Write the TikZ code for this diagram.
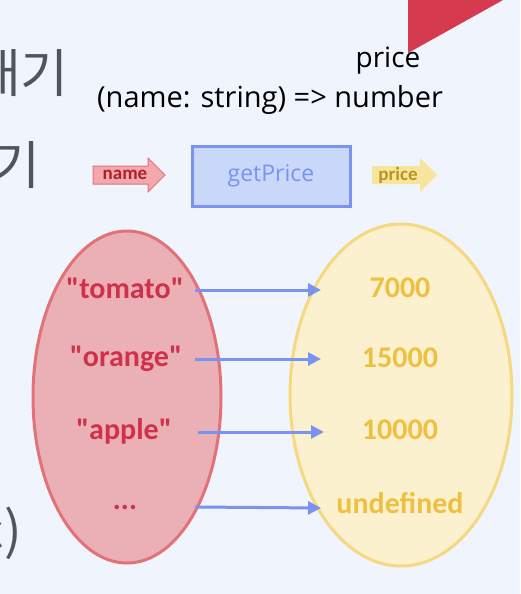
\documentclass[tikz,border=0pt]{standalone}
\usepackage{fontspec}
\setmainfont{Open Sans}
\newfontfamily\carl{Carlito}
\newfontfamily\kr{Noto Sans CJK KR}
\usetikzlibrary{shapes.geometric,arrows.meta}
\definecolor{bg}{HTML}{F0F4FD}
\definecolor{tri}{HTML}{D63A4E}
\definecolor{redfill}{HTML}{EBB0B5}
\definecolor{redline}{HTML}{E27278}
\definecolor{redtext}{HTML}{D0304A}
\definecolor{yelfill}{HTML}{FCF1CF}
\definecolor{yelline}{HTML}{F5D880}
\definecolor{yeltext}{HTML}{EEC040}
\definecolor{blueline}{HTML}{7B93F0}
\definecolor{bluefill}{HTML}{C9D7F8}
\definecolor{krgray}{HTML}{50555C}
\definecolor{namefill}{HTML}{F2A9AC}
\definecolor{nametext}{HTML}{B0202A}
\definecolor{pricefill}{HTML}{F8E49C}
\definecolor{pricetext}{HTML}{B8961E}
\tikzset{
  kr/.style={text=krgray,font=\kr\fontsize{52}{60}\selectfont,inner sep=0pt},
  lbl/.style={font=\carl\bfseries\fontsize{30}{34}\selectfont,inner sep=0pt},
  conn/.style={draw=blueline,line width=3pt,-{Triangle[length=13pt,width=13pt]}},
}
\begin{document}
\begin{tikzpicture}[x=1pt,y=-1pt]
\useasboundingbox (0,0) rectangle (520,594);
\fill[bg] (0,0) rectangle (520,594);
\begin{scope}
\clip (0,0) rectangle (520,594);
\fill[tri] (408,-1) -- (521,-1) -- (521,-10) -- (408,53) -- cycle;
\node[kr,anchor=east] (k1) at (69,73) {대기};
\node[kr,anchor=east] (k2) at (41,165) {하기};
\node[kr,anchor=east] (k3) at (22,533) {c)};
\end{scope}
\node[font=\fontsize{28}{32}\selectfont,inner sep=0pt] (ptitle) at (388,61) {price};
\node[font=\fontsize{29}{33}\selectfont,inner sep=0pt] (sig) at (270,100) {(name: string) => number};
% name arrow
\filldraw[fill=namefill,draw=redline,line width=1pt] (93,166) -- (148,166) -- (148,158) -- (165,175) -- (148,192) -- (148,184) -- (93,184) -- cycle;
\node[text=nametext,font=\carl\bfseries\fontsize{19}{22}\selectfont,inner sep=0pt] (nm) at (125,175) {name};
% box
\node[draw=blueline,fill=bluefill,line width=3pt,minimum width=158pt,minimum height=60pt,text=blueline,font=\fontsize{23}{26}\selectfont] (box) at (271,176) {getPrice};
% price arrow
\fill[pricefill] (372,166) -- (420,166) -- (420,158) -- (437,175) -- (420,192) -- (420,184) -- (372,184) -- cycle;
\node[text=pricetext,font=\carl\bfseries\fontsize{19}{22}\selectfont,inner sep=0pt] (pr) at (398,175) {price};
% ellipses
\node[ellipse,draw=redline,fill=redfill,line width=3pt,minimum width=188pt,minimum height=332pt] (dom) at (127,397) {};
\node[ellipse,draw=yelline,fill=yelfill,line width=3pt,minimum width=222pt,minimum height=342pt] (cod) at (401,395) {};
\node[lbl,text=redtext] (l1) at (125,288) {"tomato"};
\node[lbl,text=redtext] (l2) at (126,359) {"orange"};
\node[lbl,text=redtext] (l3) at (124,431) {"apple"};
\node[lbl,text=redtext] (l4) at (125,507) {...};
\node[lbl,text=yeltext] (r1) at (400,288) {7000};
\node[lbl,text=yeltext] (r2) at (400,358) {15000};
\node[lbl,text=yeltext] (r3) at (400,430) {10000};
\node[lbl,text=yeltext] (r4) at (400,503) {undefined};
\coordinate (a1) at (195,290); \coordinate (b1) at (321,290);
\coordinate (a2) at (195,359); \coordinate (b2) at (321,359);
\coordinate (a3) at (198,432); \coordinate (b3) at (324,432);
\coordinate (a4) at (195,507); \coordinate (b4) at (321,508);
\draw[conn] (a1) -- (b1);
\draw[conn] (a2) -- (b2);
\draw[conn] (a3) -- (b3);
\draw[conn] (a4) -- (b4);
\end{tikzpicture}
\end{document}
